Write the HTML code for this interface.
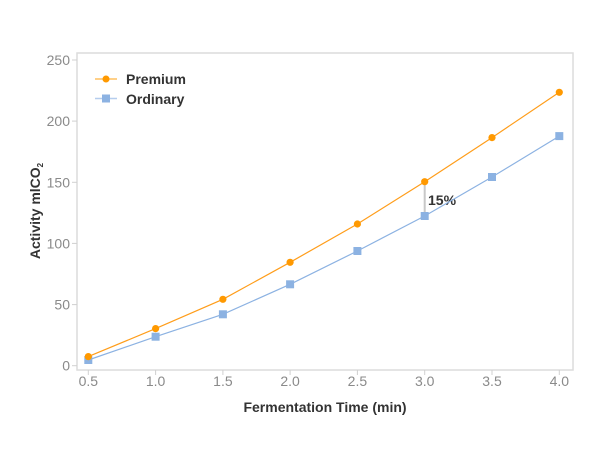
<!DOCTYPE html>
<html><head><meta charset="utf-8"><style>
html,body{margin:0;padding:0;background:#fff;}
svg{display:block;font-family:"Liberation Sans",Arial,sans-serif;}
</style></head><body>
<svg width="600" height="450" viewBox="0 0 600 450" xmlns="http://www.w3.org/2000/svg">
<rect x="0" y="0" width="600" height="450" fill="#fff"/>
<rect x="77" y="53" width="496" height="317" fill="none" stroke="#dcdcdc" stroke-width="1.5"/>
<g stroke="#d0d0d0" stroke-width="1">
<line x1="72" y1="365.7" x2="77" y2="365.7"/>
<line x1="72" y1="304.6" x2="77" y2="304.6"/>
<line x1="72" y1="243.4" x2="77" y2="243.4"/>
<line x1="72" y1="182.3" x2="77" y2="182.3"/>
<line x1="72" y1="121.1" x2="77" y2="121.1"/>
<line x1="72" y1="60" x2="77" y2="60"/>
<line x1="88.3" y1="370" x2="88.3" y2="375"/>
<line x1="155.6" y1="370" x2="155.6" y2="375"/>
<line x1="222.9" y1="370" x2="222.9" y2="375"/>
<line x1="290.1" y1="370" x2="290.1" y2="375"/>
<line x1="357.4" y1="370" x2="357.4" y2="375"/>
<line x1="424.7" y1="370" x2="424.7" y2="375"/>
<line x1="492" y1="370" x2="492" y2="375"/>
<line x1="559.3" y1="370" x2="559.3" y2="375"/>
</g>
<g fill="#8a8a8a" font-size="14" text-anchor="end">
<text x="70" y="370.7">0</text>
<text x="70" y="309.6">50</text>
<text x="70" y="248.4">100</text>
<text x="70" y="187.3">150</text>
<text x="70" y="126.1">200</text>
<text x="70" y="65">250</text>
</g>
<g fill="#8a8a8a" font-size="14" text-anchor="middle">
<text x="88.3" y="386">0.5</text>
<text x="155.6" y="386">1.0</text>
<text x="222.9" y="386">1.5</text>
<text x="290.1" y="386">2.0</text>
<text x="357.4" y="386">2.5</text>
<text x="424.7" y="386">3.0</text>
<text x="492" y="386">3.5</text>
<text x="559.3" y="386">4.0</text>
</g>
<text x="325" y="412" font-size="14" font-weight="bold" fill="#333" text-anchor="middle">Fermentation Time (min)</text>
<text transform="translate(40,211) rotate(-90)" font-size="14" font-weight="bold" fill="#333" text-anchor="middle">Activity mlCO<tspan font-size="8" dy="3">2</tspan></text>
<!-- annotation -->
<line x1="424.7" y1="181.7" x2="424.7" y2="216" stroke="#c8c8c8" stroke-width="2"/>
<text x="428" y="205" font-size="14" font-weight="bold" fill="#333">15%</text>
<!-- ordinary -->
<polyline fill="none" stroke="#8cb2e2" stroke-width="1.2" points="88.3,360 155.6,336.7 222.9,314.3 290.1,284.3 357.4,251 424.7,216 492,177 559.3,136.1"/>
<g fill="#8cb2e2">
<rect x="84.3" y="356" width="8" height="8"/>
<rect x="151.6" y="332.7" width="8" height="8"/>
<rect x="218.9" y="310.3" width="8" height="8"/>
<rect x="286.1" y="280.3" width="8" height="8"/>
<rect x="353.4" y="247" width="8" height="8"/>
<rect x="420.7" y="212" width="8" height="8"/>
<rect x="488" y="173" width="8" height="8"/>
<rect x="555.3" y="132.1" width="8" height="8"/>
</g>
<!-- premium -->
<polyline fill="none" stroke="#ff9d1a" stroke-width="1.2" points="88.3,356.6 155.6,328.6 222.9,299.3 290.1,262.3 357.4,224 424.7,181.7 492,137.6 559.3,92.3"/>
<g fill="#ff9900">
<circle cx="88.3" cy="356.6" r="3.6"/>
<circle cx="155.6" cy="328.6" r="3.6"/>
<circle cx="222.9" cy="299.3" r="3.6"/>
<circle cx="290.1" cy="262.3" r="3.6"/>
<circle cx="357.4" cy="224" r="3.6"/>
<circle cx="424.7" cy="181.7" r="3.6"/>
<circle cx="492" cy="137.6" r="3.6"/>
<circle cx="559.3" cy="92.3" r="3.6"/>
</g>
<!-- legend -->
<line x1="95" y1="79" x2="117" y2="79" stroke="#ffc060" stroke-width="1.5"/>
<circle cx="106" cy="79" r="3.5" fill="#ff9900"/>
<text x="126" y="84" font-size="14" font-weight="bold" fill="#333">Premium</text>
<line x1="95" y1="98.5" x2="117" y2="98.5" stroke="#b5cdee" stroke-width="1.5"/>
<rect x="102" y="94.5" width="8" height="8" fill="#8cb2e2"/>
<text x="126" y="104" font-size="14" font-weight="bold" fill="#333">Ordinary</text>
</svg>
</body></html>
